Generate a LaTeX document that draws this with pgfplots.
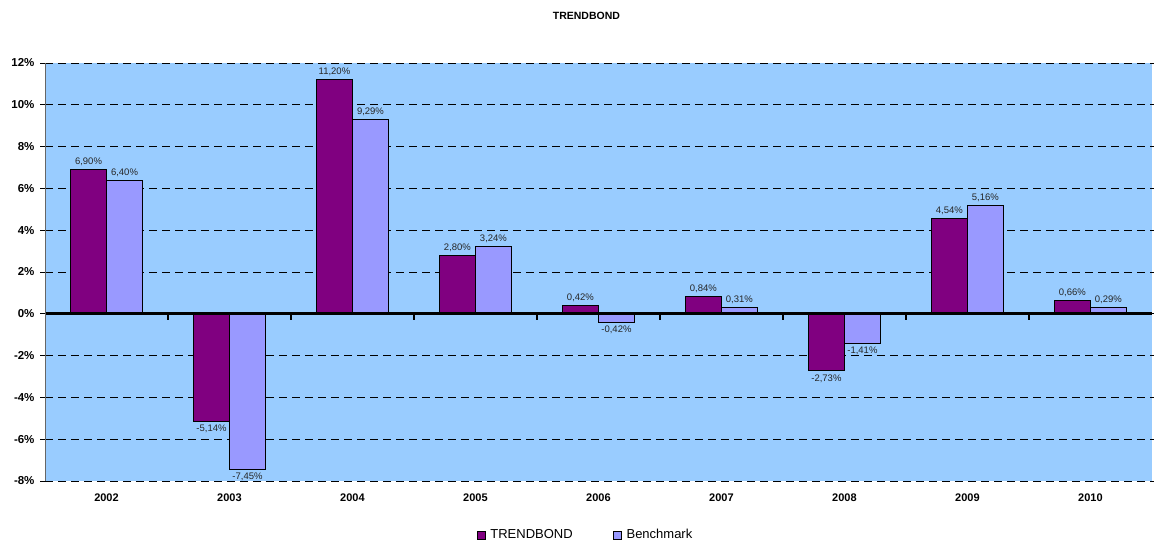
\documentclass[border=0pt]{standalone}
\usepackage{pgfplots}
\pgfplotsset{compat=1.18}
\usepackage{fontspec}
\setmainfont{Liberation Sans}
\definecolor{tbond}{RGB}{128,0,128}
\definecolor{bench}{RGB}{153,153,255}
\definecolor{bgblue}{RGB}{153,204,255}
\begin{document}
\begin{tikzpicture}[x=1pt,y=1pt]
\path[use as bounding box] (0,0) rectangle (1154,540);
\begin{axis}[
  at={(45pt,59pt)}, anchor=south west,
  scale only axis, width=1107pt, height=418pt,
  ybar=0pt, bar width=36pt,
  xmin=-0.5, xmax=8.5, ymin=-8, ymax=12,
  xtick={0,...,8},
  xticklabels={2002,2003,2004,2005,2006,2007,2008,2009,2010},
  xticklabel style={font=\bfseries\fontsize{11}{13}\selectfont, yshift=-4pt},
  xtick style={draw=none},
  ytick={-8,-6,...,12},
  yticklabel={\pgfmathprintnumber{\tick}\%},
  /pgf/number format/assume math mode=true,
  yticklabel style={font=\bfseries\fontsize{11.5}{13}\selectfont, xshift=-2pt},
  ytick style={black, line width=0.8pt},
  tick align=outside, major tick length=5pt,
  ymajorgrids,
  major grid style={black, line width=0.8pt, dash pattern=on 8pt off 5pt},
  axis line style={draw=none},
  axis background/.style={fill=bgblue},
  nodes near coords={\pgfmathprintnumber[fixed, fixed zerofill, precision=2, use comma]{\pgfplotspointmeta}\%},
  every node near coord/.append style={font=\fontsize{9.5}{11}\selectfont, text=black!85},
  title={TRENDBOND},
  title style={at={(0.5,1)}, anchor=center, yshift=41pt, xshift=-12pt, font=\bfseries\fontsize{10.5}{12}\selectfont},
  legend columns=2,
  legend style={at={(0.5,0)}, anchor=center, yshift=-54pt, xshift=-13pt, draw=none, fill=none,
    font=\fontsize{13}{15}\selectfont, /tikz/every even column/.append style={column sep=38pt}},
]
\addplot[fill=tbond, draw=black, line width=0.9pt,
  legend image code/.code={\draw[fill=tbond,draw=black,line width=0.8pt] (0pt,-4pt) rectangle (8pt,4pt); \path (11pt,0pt);}]
  coordinates {(0,6.90) (1,-5.14) (2,11.20) (3,2.80) (4,0.42) (5,0.84) (6,-2.73) (7,4.54) (8,0.66)};
\addplot[fill=bench, draw=black, line width=0.9pt,
  legend image code/.code={\draw[fill=bench,draw=black,line width=0.8pt] (0pt,-4pt) rectangle (8pt,4pt); \path (11pt,0pt);}]
  coordinates {(0,6.40) (1,-7.45) (2,9.29) (3,3.24) (4,-0.42) (5,0.31) (6,-1.41) (7,5.16) (8,0.29)};
\legend{TRENDBOND, Benchmark}
\draw[black, line width=3pt] (axis cs:-0.5,0) -- (axis cs:8.5,0);
\pgfplotsinvokeforeach{0.5,1.5,2.5,3.5,4.5,5.5,6.5,7.5}{\draw[black, line width=2.5pt] (axis cs:#1,0) -- ++(0pt,-6pt);}
\draw[black!60, line width=1.5pt] (rel axis cs:0,0) -- (rel axis cs:0,1);
\end{axis}
\end{tikzpicture}
\end{document}
